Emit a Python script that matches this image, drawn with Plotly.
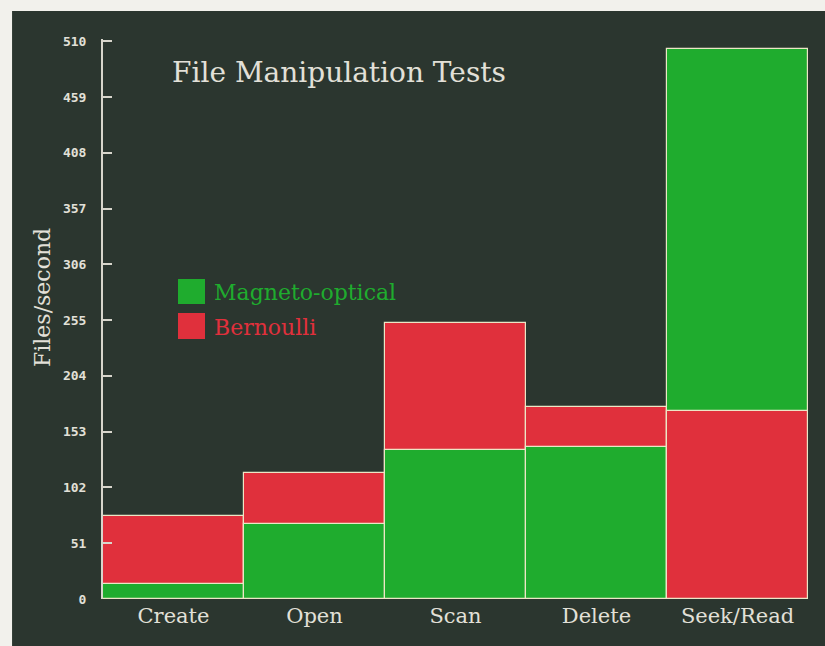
import plotly.graph_objects as go

categories = ["Create", "Open", "Scan", "Delete", "Seek/Read"]
magneto_optical = [14, 69, 136, 139, 503]
bernoulli = [76, 115, 252, 176, 172]
y_ticks = [0, 51, 102, 153, 204, 255, 306, 357, 408, 459, 510]

GREEN = "#1fac2e"
RED = "#e0303c"
BG = "#2b362f"
LINE = "#ece6c6"
TXT = "#e2e0d8"
SERIF = "DejaVu Serif"

# draw the taller bar of each category behind the shorter one
red_back = [b if b >= m else None for b, m in zip(bernoulli, magneto_optical)]
red_front = [b if b < m else None for b, m in zip(bernoulli, magneto_optical)]

fig = go.Figure()
fig.add_trace(go.Bar(x=categories, y=red_back, name="Bernoulli", marker_color=RED,
                     marker_line=dict(color=LINE, width=1.2), showlegend=False))
fig.add_trace(go.Bar(x=categories, y=magneto_optical, name="Magneto-optical", marker_color=GREEN,
                     marker_line=dict(color=LINE, width=1.2), showlegend=False))
fig.add_trace(go.Bar(x=categories, y=red_front, name="Bernoulli", marker_color=RED,
                     marker_line=dict(color=LINE, width=1.2), showlegend=False))

shapes = [
    dict(type="rect", xref="paper", yref="paper", x0=-0.129, x1=1.1, y0=-0.15, y1=1.05,
         fillcolor=BG, line_width=0, layer="below"),
    dict(type="rect", xref="paper", yref="paper", x0=0.1064, x1=0.1447, y0=0.5268, y1=0.5714,
         fillcolor=GREEN, line_width=0),
    dict(type="rect", xref="paper", yref="paper", x0=0.1064, x1=0.1447, y0=0.4643, y1=0.5107,
         fillcolor=RED, line_width=0),
]

annotations = [
    dict(text="Magneto-optical", xref="paper", yref="paper", x=0.154, y=0.548,
         xanchor="left", yanchor="middle", showarrow=False,
         font=dict(family=SERIF, size=22, color=GREEN)),
    dict(text="Bernoulli", xref="paper", yref="paper", x=0.154, y=0.484,
         xanchor="left", yanchor="middle", showarrow=False,
         font=dict(family=SERIF, size=22, color=RED)),
    dict(text="Files/second", xref="paper", yref="paper", x=-0.0865, y=0.5375,
         xanchor="center", yanchor="middle", showarrow=False, textangle=-90,
         font=dict(family=SERIF, size=22, color=TXT)),
]

fig.update_layout(
    width=825, height=646,
    margin=dict(l=103, r=17, t=39, b=47),
    paper_bgcolor="#f2f1ec",
    plot_bgcolor="rgba(0,0,0,0)",
    barmode="overlay",
    bargap=0,
    shapes=shapes,
    annotations=annotations,
    title=dict(text="File Manipulation Tests", xref="paper", yref="paper",
               x=0.098, y=0.941, xanchor="left", yanchor="middle",
               font=dict(family=SERIF, size=28, color=TXT)),
    xaxis=dict(range=[-0.5, 4.5], showgrid=False, zeroline=False, showline=False,
               ticks="", ticklabelstandoff=2,
               tickfont=dict(family=SERIF, size=21, color=TXT)),
    yaxis=dict(range=[0, 512], tickvals=y_ticks, ticktext=[str(v) for v in y_ticks],
               showgrid=False, zeroline=False, showline=True, linecolor="#d8d6cc", linewidth=2,
               ticks="inside", ticklen=9, tickcolor="#d8d6cc", tickwidth=1.5,
               ticklabelstandoff=12,
               tickfont=dict(family="DejaVu Sans Mono", size=13, color=TXT, weight="bold")),
)

fig.write_html("out.html", config={"displayModeBar": False},
               post_script="document.body.style.margin='0';")
